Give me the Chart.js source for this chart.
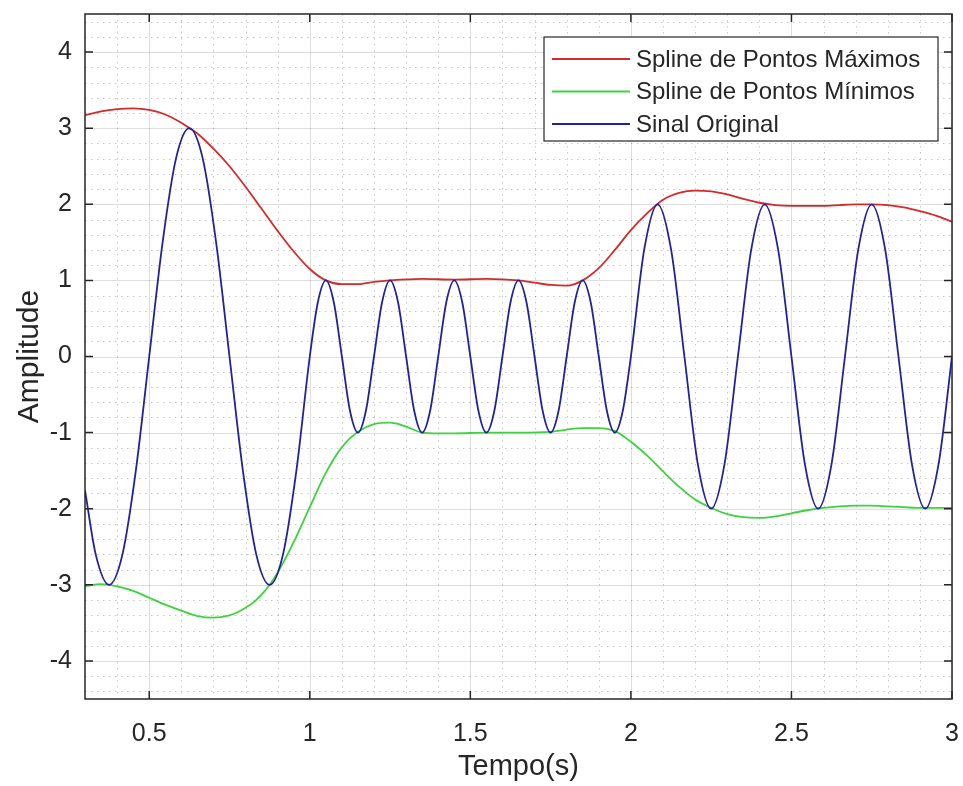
<!DOCTYPE html>
<html>
<head>
<meta charset="utf-8">
<script src="https://cdn.jsdelivr.net/npm/chart.js@4/dist/chart.umd.min.js"></script>
<style>
  html, body { margin: 0; padding: 0; background: #fff; }
  canvas { display: block; }
</style>
</head>
<body>
<canvas id="myChart" width="963" height="786"></canvas>
<script>
// Sinal Original (t, amplitude)
const sigT = [0.3, 0.3333, 0.375, 0.4167, 0.4583, 0.5, 0.5417, 0.5833, 0.625, 0.6667, 0.7083, 0.75, 0.7917, 0.8333, 0.875, 0.9167, 0.9583,
  1.0, 1.025, 1.05, 1.075, 1.1, 1.125, 1.15, 1.175, 1.2, 1.225, 1.25, 1.275, 1.3, 1.325, 1.35, 1.375, 1.4, 1.425, 1.45, 1.475,
  1.5, 1.525, 1.55, 1.575, 1.6, 1.625, 1.65, 1.675, 1.7, 1.725, 1.75, 1.775, 1.8, 1.825, 1.85, 1.875, 1.9, 1.925, 1.95, 1.975,
  2.0, 2.0417, 2.0833, 2.125, 2.1667, 2.2083, 2.25, 2.2917, 2.3333, 2.375, 2.4167, 2.4583, 2.5, 2.5417, 2.5833, 2.625,
  2.6667, 2.7083, 2.75, 2.7917, 2.8333, 2.875, 2.9167, 2.9583, 3.0];
const sigV = [-1.76, -2.6, -3, -2.6, -1.5, 0, 1.5, 2.6, 3, 2.6, 1.5, 0, -1.5, -2.6, -3, -2.6, -1.5,
  0, 0.71, 1, 0.71, 0, -0.71, -1, -0.71, 0, 0.71, 1, 0.71, 0, -0.71, -1, -0.71, 0, 0.71, 1, 0.71,
  0, -0.71, -1, -0.71, 0, 0.71, 1, 0.71, 0, -0.71, -1, -0.71, 0, 0.71, 1, 0.71, 0, -0.71, -1, -0.71,
  0, 1.41, 2, 1.41, 0, -1.41, -2, -1.41, 0, 1.41, 2, 1.41, 0, -1.41, -2, -1.41,
  0, 1.41, 2, 1.41, 0, -1.41, -2, -1.41, 0];

// Spline de Pontos Maximos
const maxT = [0.3, 0.35, 0.4, 0.45, 0.5, 0.55, 0.6, 0.625, 0.65, 0.7, 0.75, 0.8, 0.85, 0.9, 0.95, 1.0, 1.05, 1.1, 1.15, 1.2,
  1.25, 1.35, 1.45, 1.55, 1.65, 1.7, 1.75, 1.8, 1.85, 1.9, 1.95, 2.0, 2.05, 2.1, 2.15, 2.2, 2.25, 2.3, 2.35, 2.4,
  2.45, 2.5, 2.55, 2.6, 2.65, 2.7, 2.75, 2.8, 2.85, 2.9, 2.95, 3.0];
const maxV = [3.17, 3.22, 3.25, 3.26, 3.24, 3.18, 3.07, 3.0, 2.93, 2.73, 2.5, 2.23, 1.94, 1.65, 1.38, 1.15, 1.0, 0.95, 0.95, 0.98,
  1.0, 1.02, 1.01, 1.02, 1.0, 0.97, 0.94, 0.93, 1.0, 1.16, 1.4, 1.66, 1.88, 2.06, 2.15, 2.18, 2.17, 2.13, 2.07, 2.02,
  1.99, 1.98, 1.98, 1.98, 1.99, 2.0, 2.0, 1.99, 1.96, 1.91, 1.85, 1.77];

// Spline de Pontos Minimos
const minT = [0.3, 0.35, 0.4, 0.45, 0.5, 0.55, 0.6, 0.65, 0.7, 0.75, 0.775, 0.8, 0.825, 0.85, 0.875, 0.9, 0.95, 1.0, 1.05, 1.1,
  1.15, 1.2, 1.25, 1.3, 1.35, 1.4, 1.45, 1.55, 1.65, 1.75, 1.8, 1.85, 1.9, 1.95, 2.0, 2.05, 2.1, 2.15, 2.2, 2.25,
  2.3, 2.35, 2.4, 2.45, 2.5, 2.55, 2.6, 2.65, 2.7, 2.75, 2.8, 2.85, 2.9, 2.95, 3.0];
const minV = [-3.02, -2.99, -3.02, -3.08, -3.17, -3.26, -3.34, -3.41, -3.43, -3.4, -3.36, -3.3, -3.23, -3.13, -3.0, -2.84, -2.44, -1.98, -1.53, -1.19,
  -0.99, -0.89, -0.87, -0.92, -1.0, -1.01, -1.01, -1.0, -1.0, -0.99, -0.96, -0.94, -0.94, -0.98, -1.12, -1.3, -1.51, -1.71, -1.88, -1.99,
  -2.07, -2.11, -2.12, -2.1, -2.06, -2.02, -1.99, -1.97, -1.96, -1.96, -1.97, -1.98, -1.99, -1.99, -1.99];

const seriesNames = ["Spline de Pontos Máximos", "Spline de Pontos Mínimos", "Sinal Original"];
const seriesColors = ["#d42a2a", "#3cd33c", "#22229a"];

const xTicks = [0.5, 1, 1.5, 2, 2.5, 3];
const xTickLabels = ["0.5", "1", "1.5", "2", "2.5", "3"];
const yTicks = [-4, -3, -2, -1, 0, 1, 2, 3, 4];
const yTickLabels = ["-4", "-3", "-2", "-1", "0", "1", "2", "3", "4"];

const FONT = "'Liberation Sans', Arial, sans-serif";
const INK = "#262626";

function pts(ts, vs) {
  return ts.map((t, i) => ({ x: t, y: vs[i] }));
}

// no automatic padding for the edge tick labels
function noPad(s) {
  s.paddingLeft = 0;
  s.paddingRight = 0;
  s.paddingTop = 0;
  s.paddingBottom = 0;
}

const matlabAxes = {
  id: "matlabAxes",
  beforeDraw(chart) {
    const ctx = chart.ctx;
    ctx.save();
    ctx.fillStyle = "#fff";
    ctx.fillRect(0, 0, chart.width, chart.height);
    ctx.restore();
  },
  beforeDatasetsDraw(chart) {
    const { ctx, chartArea: a, scales: { x, y } } = chart;
    ctx.save();
    ctx.lineWidth = 1;
    const vline = (p) => { ctx.beginPath(); ctx.moveTo(p, a.top); ctx.lineTo(p, a.bottom); ctx.stroke(); };
    const hline = (p) => { ctx.beginPath(); ctx.moveTo(a.left, p); ctx.lineTo(a.right, p); ctx.stroke(); };

    // minor grid, dotted
    ctx.strokeStyle = "rgba(0,0,0,0.22)";
    ctx.setLineDash([1.5, 4.5]);
    for (let k = 4; k < 30; k++) {
      if (k % 5 === 0) continue;
      vline(Math.round(x.getPixelForValue(k / 10)) + 0.5);
    }
    for (let k = -22; k <= 22; k++) {
      if (k % 5 === 0) continue;
      hline(Math.round(y.getPixelForValue(k / 5)) + 0.5);
    }
    // major grid
    ctx.setLineDash([]);
    ctx.strokeStyle = "rgba(0,0,0,0.13)";
    xTicks.forEach(v => vline(Math.round(x.getPixelForValue(v)) + 0.5));
    yTicks.forEach(v => hline(Math.round(y.getPixelForValue(v)) + 0.5));
    ctx.restore();
  },
  afterDatasetsDraw(chart) {
    const { ctx, chartArea: a, scales: { x, y } } = chart;
    ctx.save();
    // box
    ctx.strokeStyle = INK;
    ctx.lineWidth = 1.5;
    ctx.strokeRect(a.left, a.top, a.right - a.left, a.bottom - a.top);
    // inward ticks on all sides
    const tl = 8;
    xTicks.forEach(v => {
      const p = x.getPixelForValue(v);
      ctx.beginPath();
      ctx.moveTo(p, a.bottom); ctx.lineTo(p, a.bottom - tl);
      ctx.moveTo(p, a.top); ctx.lineTo(p, a.top + tl);
      ctx.stroke();
    });
    yTicks.forEach(v => {
      const p = y.getPixelForValue(v);
      ctx.beginPath();
      ctx.moveTo(a.left, p); ctx.lineTo(a.left + tl, p);
      ctx.moveTo(a.right, p); ctx.lineTo(a.right - tl, p);
      ctx.stroke();
    });

    // legend box
    const bx = 544, by = 37, bw = 394, bh = 104;
    ctx.fillStyle = "#fff";
    ctx.fillRect(bx, by, bw, bh);
    ctx.strokeStyle = INK;
    ctx.lineWidth = 1.2;
    ctx.strokeRect(bx, by, bw, bh);
    ctx.font = "24px " + FONT;
    ctx.textBaseline = "middle";
    ctx.textAlign = "left";
    chart.data.datasets.forEach((ds, i) => {
      const ly = by + 22 + i * 32.5;
      ctx.strokeStyle = ds.borderColor;
      ctx.lineWidth = 1.8;
      ctx.beginPath();
      ctx.moveTo(bx + 8, ly);
      ctx.lineTo(bx + 86, ly);
      ctx.stroke();
      ctx.fillStyle = INK;
      ctx.fillText(ds.label, bx + 92, ly + 1);
    });
    ctx.restore();
  }
};

const ctx = document.getElementById("myChart").getContext("2d");
new Chart(ctx, {
  type: "line",
  data: {
    datasets: [
      { label: seriesNames[0], data: pts(maxT, maxV), borderColor: seriesColors[0], order: 3 },
      { label: seriesNames[1], data: pts(minT, minV), borderColor: seriesColors[1], order: 2 },
      { label: seriesNames[2], data: pts(sigT, sigV), borderColor: seriesColors[2], order: 1 }
    ]
  },
  options: {
    responsive: false,
    animation: false,
    devicePixelRatio: 1,
    layout: { autoPadding: false, padding: { left: 0, right: 11, top: 14, bottom: 0 } },
    elements: {
      point: { radius: 0, hoverRadius: 0 },
      line: { borderWidth: 1.8, cubicInterpolationMode: "monotone", fill: false }
    },
    plugins: {
      legend: { display: false },
      tooltip: { enabled: false }
    },
    scales: {
      x: {
        type: "linear",
        min: 0.3,
        max: 3,
        grid: { display: false, drawTicks: false },
        border: { display: false },
        afterBuildTicks: s => { s.ticks = xTicks.map(v => ({ value: v })); },
        afterFit: s => { s.height = 87; noPad(s); },
        ticks: {
          padding: 20,
          maxRotation: 0,
          color: INK,
          font: { family: FONT, size: 25 },
          callback: (v, i) => xTickLabels[i]
        },
        title: {
          display: true,
          text: "Tempo(s)",
          color: INK,
          font: { family: FONT, size: 29 },
          padding: { top: 0, bottom: 2 }
        }
      },
      y: {
        min: -4.5,
        max: 4.5,
        grid: { display: false, drawTicks: false },
        border: { display: false },
        afterBuildTicks: s => { s.ticks = yTicks.map(v => ({ value: v })); },
        afterFit: s => { s.width = 85; noPad(s); },
        ticks: {
          padding: 13,
          color: INK,
          font: { family: FONT, size: 25 },
          callback: (v, i) => yTickLabels[i]
        },
        title: {
          display: true,
          text: "Amplitude",
          color: INK,
          font: { family: FONT, size: 30 },
          padding: { top: 12, bottom: 0 }
        }
      }
    }
  },
  plugins: [matlabAxes]
});
</script>
</body>
</html>
